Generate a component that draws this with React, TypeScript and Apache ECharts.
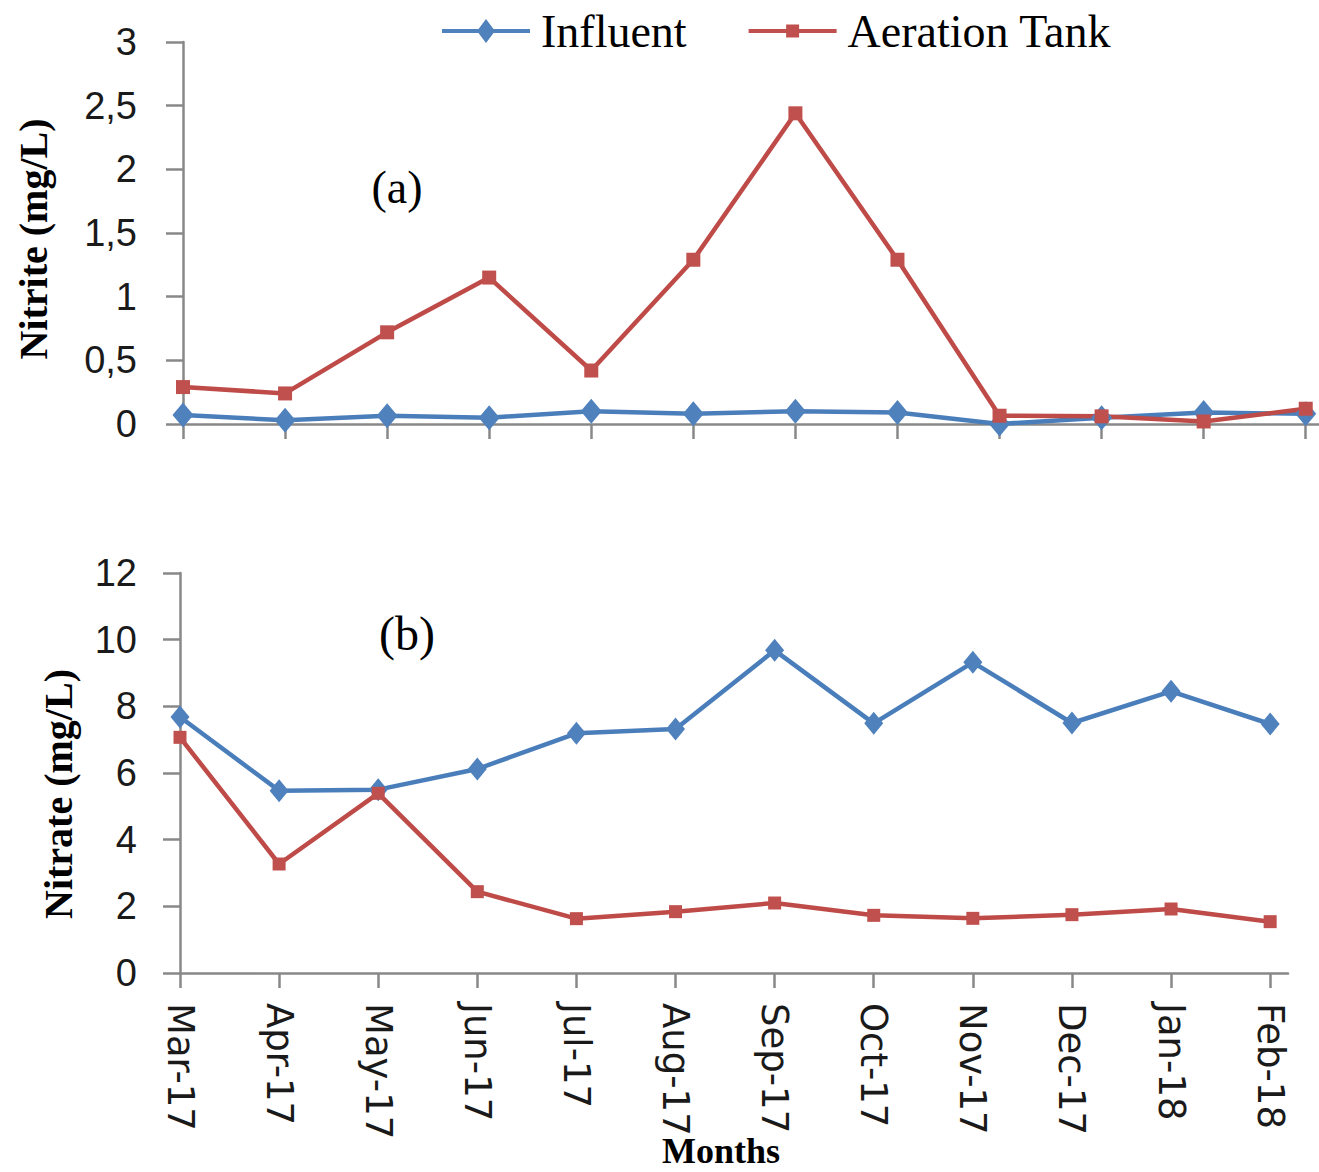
import React, { useEffect, useRef } from "react";
import * as echarts from "echarts";

const months = ["Mar-17", "Apr-17", "May-17", "Jun-17", "Jul-17", "Aug-17", "Sep-17", "Oct-17", "Nov-17", "Dec-17", "Jan-18", "Feb-18"];
const monthIdx = [0, 1, 2, 3, 4, 5, 6, 7, 8, 9, 10, 11];

const nitriteInfluent = [0.07, 0.03, 0.065, 0.05, 0.1, 0.08, 0.1, 0.09, 0.0, 0.05, 0.09, 0.08];
const nitriteAeration = [0.29, 0.24, 0.72, 1.15, 0.42, 1.29, 2.44, 1.29, 0.065, 0.06, 0.02, 0.12];
const nitrateInfluent = [7.68, 5.47, 5.5, 6.12, 7.19, 7.32, 9.68, 7.49, 9.32, 7.5, 8.45, 7.47];
const nitrateAeration = [7.07, 3.27, 5.39, 2.44, 1.63, 1.84, 2.1, 1.73, 1.64, 1.75, 1.92, 1.54];

const BLUE_LINE = "#4A7EBB";
const BLUE_MARK = "#4F81BD";
const RED_LINE = "#BE4B48";
const RED_MARK = "#C0504D";
const AXIS = "#888888";

const diamondIcon = "path://M0,10 L88,10 L88,14 L0,14 Z M44,0 L53,12 L44,24 L35,12 Z M0,0 L0.01,0 L0,0.01 Z M88,24 L87.99,24 L88,23.99 Z";
const squareIcon = "path://M0,10 L88,10 L88,14 L0,14 Z M37.5,5.5 L50.5,5.5 L50.5,18.5 L37.5,18.5 Z M0,0 L0.01,0 L0,0.01 Z M88,24 L87.99,24 L88,23.99 Z";

const pairs = (arr: number[]) => arr.map((v, i) => [monthIdx[i], v]);

export default function App() {
  const ref = useRef<HTMLDivElement>(null);
  useEffect(() => {
    if (!ref.current) return;
    const chart = echarts.init(ref.current, undefined, { renderer: "svg" });
    const axisLine = { show: true, lineStyle: { color: AXIS, width: 2.5 } };
    const tickStyle = { color: AXIS, width: 2.5 };
    const yLabel = { fontFamily: "Liberation Sans", fontSize: 38, color: "#1a1a1a" };
    const serif = "Liberation Serif";
    const centered = { align: "center", verticalAlign: "middle", textAlign: "center", textVerticalAlign: "middle", fill: "#000" };
    chart.setOption({
      animation: false,
      backgroundColor: "#ffffff",
      legend: {
        left: 437,
        top: 3,
        itemWidth: 88,
        itemHeight: 24,
        itemGap: 62,
        itemStyle: { borderWidth: 0 },
        textStyle: { fontFamily: serif, fontSize: 46, color: "#000", padding: [0, 0, 0, 6] },
        data: [
          { name: "Influent", icon: diamondIcon },
          { name: "Aeration Tank", icon: squareIcon },
        ],
      },
      grid: [
        { left: 183, top: 42, width: 1136, height: 382 },
        { left: 180, top: 573, width: 1108, height: 400 },
      ],
      xAxis: [
        {
          gridIndex: 0,
          type: "value",
          min: 0,
          max: 11.13,
          axisLine,
          axisTick: { show: true, customValues: monthIdx, length: 15, lineStyle: tickStyle },
          axisLabel: { show: false },
          splitLine: { show: false },
        },
        {
          gridIndex: 1,
          type: "value",
          min: 0,
          max: 11.18,
          axisLine,
          axisTick: { show: true, customValues: monthIdx, length: 15, lineStyle: tickStyle },
          axisLabel: {
            show: true,
            customValues: monthIdx,
            formatter: (v: number) => months[Math.round(v)] ?? "",
            rotate: -90,
            margin: 30,
            fontFamily: "DejaVu Sans",
            fontSize: 37,
            color: "#1a1a1a",
          },
          splitLine: { show: false },
        },
      ],
      yAxis: [
        {
          gridIndex: 0,
          type: "value",
          min: 0,
          max: 3,
          interval: 0.5,
          axisLine,
          axisTick: { show: true, length: 17, lineStyle: tickStyle },
          axisLabel: { ...yLabel, margin: 46, formatter: (v: number) => String(v).replace(".", ",") },
          splitLine: { show: false },
        },
        {
          gridIndex: 1,
          type: "value",
          min: 0,
          max: 12,
          interval: 2,
          axisLine,
          axisTick: { show: true, length: 17, lineStyle: tickStyle },
          axisLabel: { ...yLabel, margin: 43 },
          splitLine: { show: false },
        },
      ],
      series: [
        {
          name: "Influent",
          type: "line",
          xAxisIndex: 0,
          yAxisIndex: 0,
          data: pairs(nitriteInfluent),
          symbol: "diamond",
          symbolSize: [21, 25],
          clip: false,
          lineStyle: { color: BLUE_LINE, width: 4.5 },
          itemStyle: { color: BLUE_MARK, borderWidth: 0 },
        },
        {
          name: "Aeration Tank",
          type: "line",
          xAxisIndex: 0,
          yAxisIndex: 0,
          data: pairs(nitriteAeration),
          symbol: "rect",
          symbolSize: 14,
          clip: false,
          lineStyle: { color: RED_LINE, width: 4.5 },
          itemStyle: { color: RED_MARK, borderWidth: 0 },
        },
        {
          name: "Influent",
          type: "line",
          xAxisIndex: 1,
          yAxisIndex: 1,
          data: pairs(nitrateInfluent),
          symbol: "diamond",
          symbolSize: [19, 23],
          clip: false,
          lineStyle: { color: BLUE_LINE, width: 4.5 },
          itemStyle: { color: BLUE_MARK, borderWidth: 0 },
        },
        {
          name: "Aeration Tank",
          type: "line",
          xAxisIndex: 1,
          yAxisIndex: 1,
          data: pairs(nitrateAeration),
          symbol: "rect",
          symbolSize: 13,
          clip: false,
          lineStyle: { color: RED_LINE, width: 4.5 },
          itemStyle: { color: RED_MARK, borderWidth: 0 },
        },
      ],
      graphic: [
        { type: "text", x: 397, y: 187, style: { ...centered, text: "(a)", font: `46px "${serif}"` } },
        { type: "text", x: 407, y: 633, style: { ...centered, text: "(b)", font: `48px "${serif}"` } },
        { type: "text", x: 33, y: 239, rotation: Math.PI / 2, style: { ...centered, text: "Nitrite (mg/L)", font: `bold 40px "${serif}"` } },
        { type: "text", x: 58, y: 794, rotation: Math.PI / 2, style: { ...centered, text: "Nitrate (mg/L)", font: `bold 40px "${serif}"` } },
        { type: "text", x: 721, y: 1151, style: { ...centered, text: "Months", font: `bold 36px "${serif}"` } },
      ],
    });
    return () => chart.dispose();
  }, []);
  return (
    <div
      ref={ref}
      style={{ position: "absolute", left: 0, top: 0, width: 1319, height: 1172, background: "#fff" }}
    />
  );
}
